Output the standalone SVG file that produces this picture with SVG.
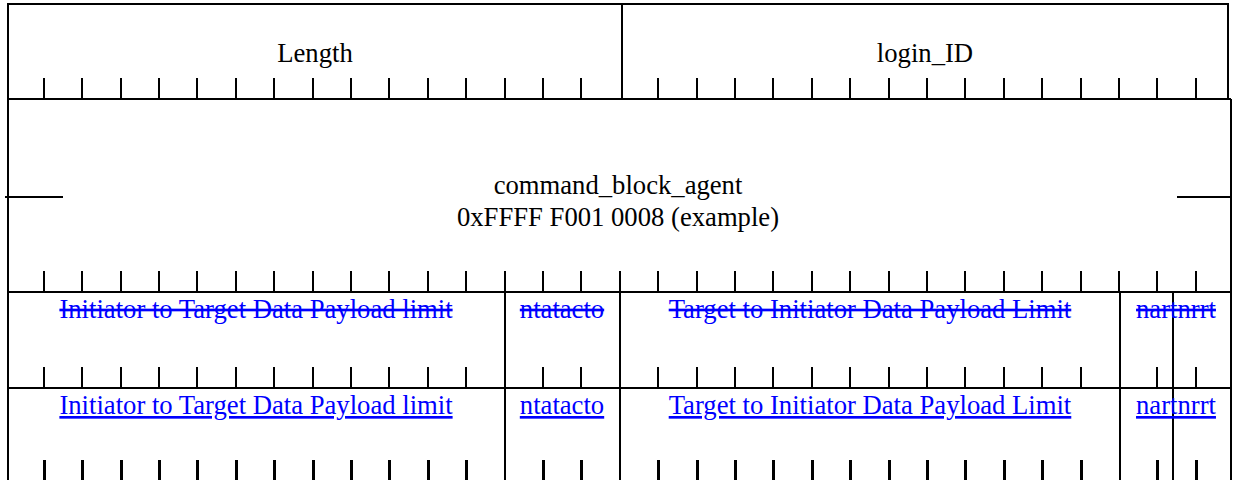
<svg xmlns="http://www.w3.org/2000/svg" width="1233" height="480" viewBox="0 0 1233 480">
  <style>
    .frame { stroke: #000; stroke-width: 2; fill: none; }
    .tick { stroke: #000; stroke-width: 2; }
    .tick-bold { stroke: #000; stroke-width: 3; }
    .lbl { font-family: "Liberation Serif", "Times New Roman", serif; font-size: 26.67px; fill: #000; text-anchor: middle; }
    .link { font-family: "Liberation Serif", "Times New Roman", serif; font-size: 26.67px; fill: #0000ff; text-anchor: middle; }
    .struck { text-decoration: line-through; }
    .under { text-decoration: underline; }
  </style>
  <defs>
    <!-- one bit-boundary tick, drawn upward from its row line -->
    <line id="t" class="tick" x1="0" y1="0" x2="0" y2="-21"/>
    <line id="tb" class="tick-bold" x1="0.5" y1="0" x2="0.5" y2="-21"/>
  </defs>

  <rect width="1233" height="480" fill="#fff"/>

  <!-- outer frame and row separators -->
  <g id="frame" class="frame">
    <polyline points="8,480 8,4 1228,4 1228,99"/>
    <line x1="1231" y1="99" x2="1231" y2="480"/>
    <line x1="8" y1="99" x2="1231" y2="99"/>
    <line x1="8" y1="292" x2="1231" y2="292"/>
    <line x1="8" y1="388" x2="1231" y2="388"/>
  </g>

  <!-- quadlet 0: Length | login_ID -->
  <g id="length">
    <text class="lbl" x="315" y="62">Length</text>
    <g>
      <use href="#t" x="44" y="99"/><use href="#t" x="82" y="99"/><use href="#t" x="121" y="99"/><use href="#t" x="159" y="99"/>
      <use href="#t" x="197" y="99"/><use href="#t" x="236" y="99"/><use href="#t" x="274" y="99"/><use href="#t" x="313" y="99"/>
      <use href="#t" x="351" y="99"/><use href="#t" x="389" y="99"/><use href="#t" x="428" y="99"/><use href="#t" x="466" y="99"/>
      <use href="#t" x="505" y="99"/><use href="#t" x="543" y="99"/><use href="#t" x="581" y="99"/>
    </g>
  </g>
  <g id="login_ID">
    <line class="frame" x1="622" y1="4" x2="622" y2="99"/>
    <text class="lbl" x="925" y="62">login_ID</text>
    <g>
      <use href="#t" x="658" y="99"/><use href="#t" x="697" y="99"/><use href="#t" x="735" y="99"/><use href="#t" x="773" y="99"/>
      <use href="#t" x="812" y="99"/><use href="#t" x="850" y="99"/><use href="#t" x="889" y="99"/><use href="#t" x="927" y="99"/>
      <use href="#t" x="965" y="99"/><use href="#t" x="1004" y="99"/><use href="#t" x="1042" y="99"/><use href="#t" x="1081" y="99"/>
      <use href="#t" x="1119" y="99"/><use href="#t" x="1157" y="99"/><use href="#t" x="1196" y="99"/>
    </g>
  </g>

  <!-- quadlets 1-2: command_block_agent (64-bit address) -->
  <g id="command_block_agent">
    <line class="frame" x1="5" y1="197" x2="63" y2="197"/>
    <line class="frame" x1="1177" y1="197" x2="1231" y2="197"/>
    <text class="lbl" x="618" y="194">command_block_agent</text>
    <text class="lbl" x="618" y="226">0xFFFF F001 0008 (example)</text>
    <g>
      <use href="#t" x="44" y="292"/><use href="#t" x="82" y="292"/><use href="#t" x="121" y="292"/><use href="#t" x="159" y="292"/>
      <use href="#t" x="197" y="292"/><use href="#t" x="236" y="292"/><use href="#t" x="274" y="292"/><use href="#t" x="313" y="292"/>
      <use href="#t" x="351" y="292"/><use href="#t" x="389" y="292"/><use href="#t" x="428" y="292"/><use href="#t" x="466" y="292"/>
      <use href="#t" x="505" y="292"/><use href="#t" x="543" y="292"/><use href="#t" x="581" y="292"/><use href="#t" x="620" y="292"/>
      <use href="#t" x="658" y="292"/><use href="#t" x="697" y="292"/><use href="#t" x="735" y="292"/><use href="#t" x="773" y="292"/>
      <use href="#t" x="812" y="292"/><use href="#t" x="850" y="292"/><use href="#t" x="889" y="292"/><use href="#t" x="927" y="292"/>
      <use href="#t" x="965" y="292"/><use href="#t" x="1004" y="292"/><use href="#t" x="1042" y="292"/><use href="#t" x="1081" y="292"/>
      <use href="#t" x="1119" y="292"/><use href="#t" x="1157" y="292"/><use href="#t" x="1196" y="292"/>
    </g>
  </g>

  <!-- field dividers shared by quadlets 3 and 4 -->
  <g id="dividers" class="frame">
    <line x1="505" y1="292" x2="505" y2="480"/>
    <line x1="620" y1="292" x2="620" y2="480"/>
    <line x1="1120" y1="292" x2="1120" y2="480"/>
    <line x1="1173" y1="292" x2="1173" y2="480"/>
  </g>

  <!-- quadlet 3: deleted field names -->
  <g id="row-struck">
    <text class="link struck" x="256" y="318">Initiator to Target Data Payload limit</text>
    <text class="link struck" x="562" y="318">ntatacto</text>
    <text class="link struck" x="870" y="318">Target to Initiator Data Payload Limit</text>
    <text class="link struck" x="1176" y="318">nartnrrt</text>
    <g>
      <use href="#t" x="44" y="388"/><use href="#t" x="82" y="388"/><use href="#t" x="121" y="388"/><use href="#t" x="159" y="388"/>
      <use href="#t" x="197" y="388"/><use href="#t" x="236" y="388"/><use href="#t" x="274" y="388"/><use href="#t" x="313" y="388"/>
      <use href="#t" x="351" y="388"/><use href="#t" x="389" y="388"/><use href="#t" x="428" y="388"/><use href="#t" x="466" y="388"/>
      <use href="#t" x="543" y="388"/><use href="#t" x="581" y="388"/>
      <use href="#t" x="658" y="388"/><use href="#t" x="697" y="388"/><use href="#t" x="735" y="388"/><use href="#t" x="773" y="388"/>
      <use href="#t" x="812" y="388"/><use href="#t" x="850" y="388"/><use href="#t" x="889" y="388"/><use href="#t" x="927" y="388"/>
      <use href="#t" x="965" y="388"/><use href="#t" x="1004" y="388"/><use href="#t" x="1042" y="388"/><use href="#t" x="1081" y="388"/>
      <use href="#t" x="1157" y="388"/><use href="#t" x="1196" y="388"/>
    </g>
  </g>

  <!-- quadlet 4: inserted field names -->
  <g id="row-inserted">
    <text class="link under" x="256" y="414">Initiator to Target Data Payload limit</text>
    <text class="link under" x="562" y="414">ntatacto</text>
    <text class="link under" x="870" y="414">Target to Initiator Data Payload Limit</text>
    <text class="link under" x="1176" y="414">nartnrrt</text>
    <g>
      <use href="#tb" x="44" y="481"/><use href="#tb" x="82" y="481"/><use href="#tb" x="121" y="481"/><use href="#tb" x="159" y="481"/>
      <use href="#tb" x="197" y="481"/><use href="#tb" x="236" y="481"/><use href="#tb" x="274" y="481"/><use href="#tb" x="313" y="481"/>
      <use href="#tb" x="351" y="481"/><use href="#tb" x="389" y="481"/><use href="#tb" x="428" y="481"/><use href="#tb" x="466" y="481"/>
      <use href="#tb" x="543" y="481"/><use href="#tb" x="581" y="481"/>
      <use href="#tb" x="658" y="481"/><use href="#tb" x="697" y="481"/><use href="#tb" x="735" y="481"/><use href="#tb" x="773" y="481"/>
      <use href="#tb" x="812" y="481"/><use href="#tb" x="850" y="481"/><use href="#tb" x="889" y="481"/><use href="#tb" x="927" y="481"/>
      <use href="#tb" x="965" y="481"/><use href="#tb" x="1004" y="481"/><use href="#tb" x="1042" y="481"/><use href="#tb" x="1081" y="481"/>
      <use href="#tb" x="1157" y="481"/><use href="#tb" x="1196" y="481"/>
    </g>
  </g>
</svg>
